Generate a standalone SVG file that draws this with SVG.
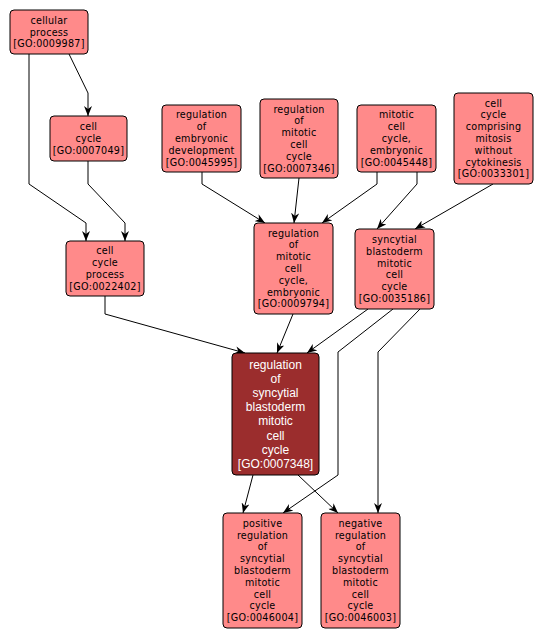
<svg xmlns="http://www.w3.org/2000/svg" width="543" height="642" viewBox="0 0 543 642">
<defs>
<style>
.n rect{fill:#ff8a8a;stroke:#000;stroke-width:1}
.m rect{fill:#9b2d2d;stroke:#000;stroke-width:1}
.n text{font-family:"DejaVu Sans",sans-serif;font-size:9.6px;letter-spacing:0.25px;fill:#000;text-anchor:middle}
.m text{font-family:"Liberation Sans",Arial,sans-serif;font-size:12px;fill:#fff;text-anchor:middle}
#edges polyline{fill:none;stroke:#000;stroke-width:1;marker-end:url(#ah)}
</style>
<marker id="ah" viewBox="0 0 10 8" markerWidth="10" markerHeight="8" refX="10" refY="4" orient="auto" markerUnits="userSpaceOnUse">
<path d="M0,0 L10,4 L0,8 L3,4 z" fill="#000"/>
</marker>
</defs>
<rect width="543" height="642" fill="#fff"/>
<g id="edges">
<polyline points="69,54 88,93 88,116"/>
<polyline points="29,54 29,184 86,223 86,241"/>
<polyline points="88,161 88,184 125,223 125,241"/>
<polyline points="202,172 202,184 265,223"/>
<polyline points="299,178 294,223"/>
<polyline points="377,172 377,184 322,223"/>
<polyline points="417,172 417,184 377,229"/>
<polyline points="493,184 415,229"/>
<polyline points="105,296 105,314 245,353"/>
<polyline points="293,314 277,353"/>
<polyline points="368,309 307,353"/>
<polyline points="393,309 338,352 338,475 283,513"/>
<polyline points="420,309 378,352 378,513"/>
<polyline points="253,475 243,513"/>
<polyline points="298,475 338,513"/>
</g>
<g id="n1" class="n"><rect x="10" y="10" width="78" height="44" rx="4"/>
<text x="49" y="23.7">cellular</text><text x="49" y="35.5">process</text><text x="49" y="47.3">[GO:0009987]</text></g>
<g id="n2" class="n"><rect x="50" y="116" width="77" height="45" rx="4"/>
<text x="88.5" y="130.2">cell</text><text x="88.5" y="142">cycle</text><text x="88.5" y="153.8">[GO:0007049]</text></g>
<g id="n3" class="n"><rect x="66" y="241" width="78" height="55" rx="4"/>
<text x="105" y="254.3">cell</text><text x="105" y="266.1">cycle</text><text x="105" y="277.9">process</text><text x="105" y="289.7">[GO:0022402]</text></g>
<g id="n4" class="n"><rect x="162" y="105" width="79" height="67" rx="4"/>
<text x="201.5" y="118.4">regulation</text><text x="201.5" y="130.2">of</text><text x="201.5" y="142">embryonic</text><text x="201.5" y="153.8">development</text><text x="201.5" y="165.6">[GO:0045995]</text></g>
<g id="n5" class="n"><rect x="260" y="99" width="78" height="79" rx="4"/>
<text x="299" y="112.5">regulation</text><text x="299" y="124.3">of</text><text x="299" y="136.1">mitotic</text><text x="299" y="147.9">cell</text><text x="299" y="159.7">cycle</text><text x="299" y="171.5">[GO:0007346]</text></g>
<g id="n6" class="n"><rect x="357" y="105" width="79" height="67" rx="4"/>
<text x="396.5" y="118.4">mitotic</text><text x="396.5" y="130.2">cell</text><text x="396.5" y="142">cycle,</text><text x="396.5" y="153.8">embryonic</text><text x="396.5" y="165.6">[GO:0045448]</text></g>
<g id="n7" class="n"><rect x="454" y="93" width="79" height="91" rx="4"/>
<text x="493.5" y="106.6">cell</text><text x="493.5" y="118.4">cycle</text><text x="493.5" y="130.2">comprising</text><text x="493.5" y="142">mitosis</text><text x="493.5" y="153.8">without</text><text x="493.5" y="165.6">cytokinesis</text><text x="493.5" y="177.4">[GO:0033301]</text></g>
<g id="n8" class="n"><rect x="254" y="223" width="79" height="91" rx="4"/>
<text x="293.5" y="236.6">regulation</text><text x="293.5" y="248.4">of</text><text x="293.5" y="260.2">mitotic</text><text x="293.5" y="272">cell</text><text x="293.5" y="283.8">cycle,</text><text x="293.5" y="295.6">embryonic</text><text x="293.5" y="307.4">[GO:0009794]</text></g>
<g id="n9" class="n"><rect x="355" y="229" width="79" height="80" rx="4"/>
<text x="394.5" y="243">syncytial</text><text x="394.5" y="254.8">blastoderm</text><text x="394.5" y="266.6">mitotic</text><text x="394.5" y="278.4">cell</text><text x="394.5" y="290.2">cycle</text><text x="394.5" y="302">[GO:0035186]</text></g>
<g id="n10" class="m"><rect x="232" y="353" width="87" height="122" rx="4"/>
<text x="275.5" y="369">regulation</text><text x="275.5" y="383.1">of</text><text x="275.5" y="397.2">syncytial</text><text x="275.5" y="411.3">blastoderm</text><text x="275.5" y="425.4">mitotic</text><text x="275.5" y="439.5">cell</text><text x="275.5" y="453.6">cycle</text><text x="275.5" y="467.7">[GO:0007348]</text></g>
<g id="n11" class="n"><rect x="223" y="513" width="79" height="115" rx="4"/>
<text x="262.5" y="526.8">positive</text><text x="262.5" y="538.6">regulation</text><text x="262.5" y="550.4">of</text><text x="262.5" y="562.2">syncytial</text><text x="262.5" y="574">blastoderm</text><text x="262.5" y="585.8">mitotic</text><text x="262.5" y="597.6">cell</text><text x="262.5" y="609.4">cycle</text><text x="262.5" y="621.2">[GO:0046004]</text></g>
<g id="n12" class="n"><rect x="321" y="513" width="79" height="115" rx="4"/>
<text x="360.5" y="526.8">negative</text><text x="360.5" y="538.6">regulation</text><text x="360.5" y="550.4">of</text><text x="360.5" y="562.2">syncytial</text><text x="360.5" y="574">blastoderm</text><text x="360.5" y="585.8">mitotic</text><text x="360.5" y="597.6">cell</text><text x="360.5" y="609.4">cycle</text><text x="360.5" y="621.2">[GO:0046003]</text></g>
</svg>
